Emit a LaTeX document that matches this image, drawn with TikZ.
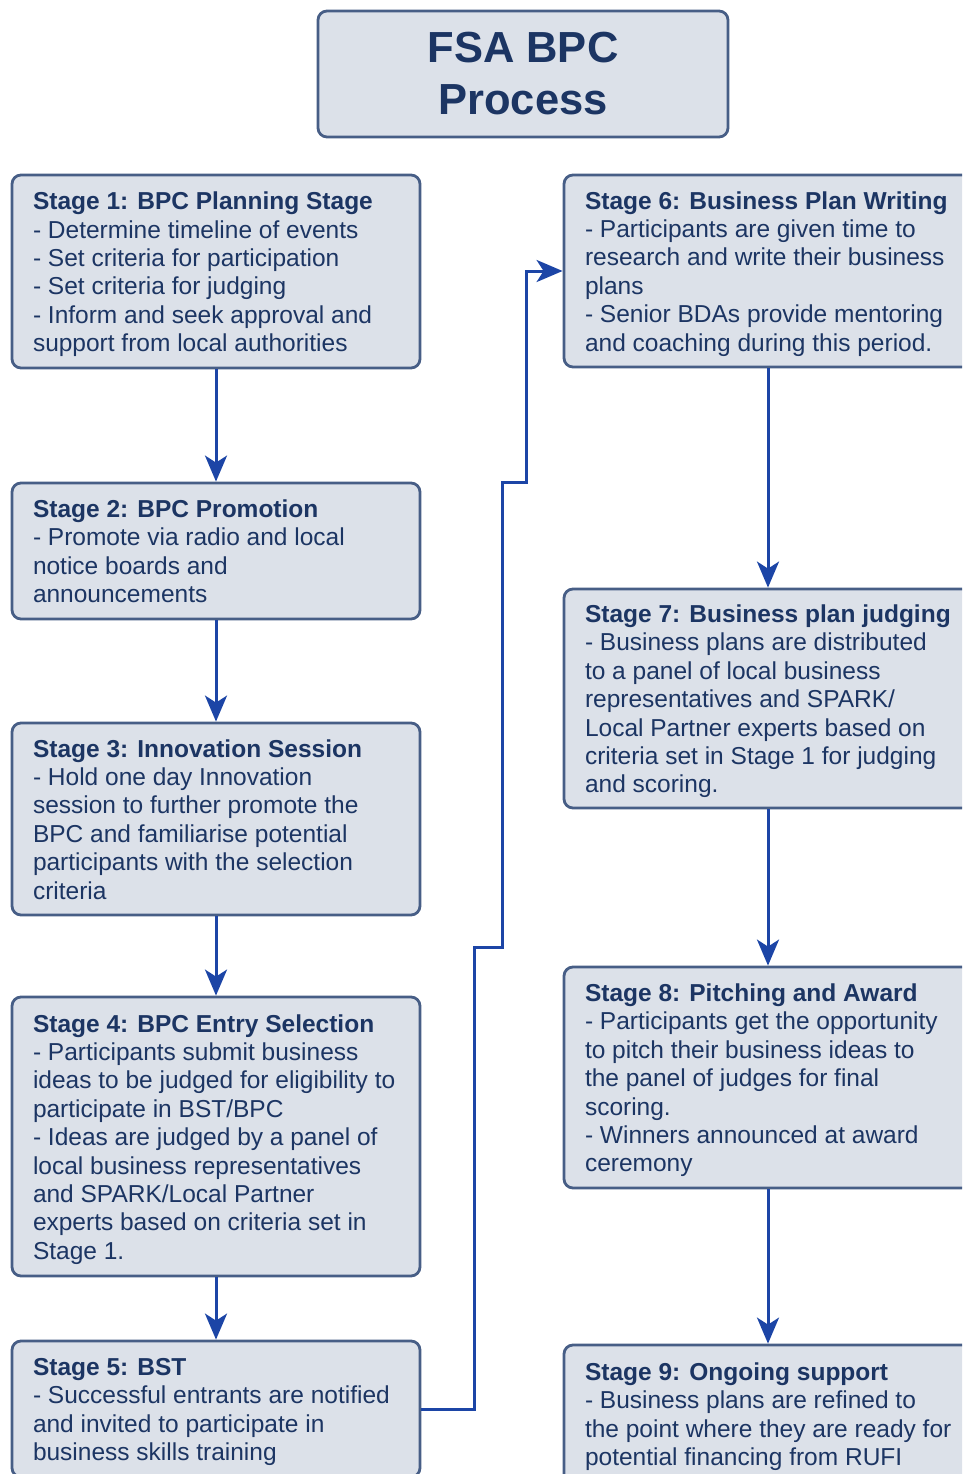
\documentclass[tikz,border=0pt]{standalone}
\usepackage{fontspec}
\setmainfont{Liberation Sans}
\usetikzlibrary{arrows.meta}

\definecolor{boxfill}{HTML}{DCE1E9}
\definecolor{boxline}{HTML}{475E86}
\definecolor{txt}{HTML}{1C3563}
\definecolor{arrowblue}{HTML}{1C45A6}

% left-aligned block of forced lines, set in a fixed-width box,
% dropped slightly below the box centre
\newcommand\stagelines[1]{\raisebox{-3.5pt}[\height][\depth]{\makebox[366pt][l]{\begin{tabular}{@{}l@{}}#1\end{tabular}}}}

\tikzset{
  stagebox/.style={draw=boxline, fill=boxfill, line width=2.8pt, rounded corners=9pt,
    inner sep=0pt, minimum width=408pt, text=txt,
    font=\fontsize{24.5}{28.4}\selectfont},
  titlebox/.style={draw=boxline, fill=boxfill, line width=2.8pt, rounded corners=9pt,
    inner sep=0pt, minimum width=410pt, minimum height=126pt, text=txt, align=center,
    font=\fontsize{43.5}{52}\selectfont\bfseries},
  flow/.style={draw=arrowblue, line width=3pt,
    -{Stealth[length=26pt, width=22pt, inset=7pt]}}
}

\begin{document}
\begin{tikzpicture}[x=1pt, y=-1pt]
\useasboundingbox (0,0) rectangle (962,1474);
\clip (0,0) rectangle (962,1474);

\node[titlebox] (title) at (523,74) {FSA BPC\\Process};

% left column
\node[stagebox, minimum height=193pt] (s1) at (216,271.5) {\stagelines{%
  \textbf{Stage 1: BPC Planning Stage}\\
  - Determine timeline of events\\
  - Set criteria for participation\\
  - Set criteria for judging\\
  - Inform and seek approval and\\
  support from local authorities}};

\node[stagebox, minimum height=136pt] (s2) at (216,551) {\stagelines{%
  \textbf{Stage 2: BPC Promotion}\\
  - Promote via radio and local\\
  notice boards and\\
  announcements}};

\node[stagebox, minimum height=192pt] (s3) at (216,819) {\stagelines{%
  \textbf{Stage 3: Innovation Session}\\
  - Hold one day Innovation\\
  session to further promote the\\
  BPC and familiarise potential\\
  participants with the selection\\
  criteria}};

\node[stagebox, minimum height=279pt] (s4) at (216,1136.5) {\stagelines{%
  \textbf{Stage 4: BPC Entry Selection}\\
  - Participants submit business\\
  ideas to be judged for eligibility to\\
  participate in BST/BPC\\
  - Ideas are judged by a panel of\\
  local business representatives\\
  and SPARK/Local Partner\\
  experts based on criteria set in\\
  Stage 1.}};

\node[stagebox, minimum height=136pt] (s5) at (216,1409) {\stagelines{%
  \textbf{Stage 5: BST}\\
  - Successful entrants are notified\\
  and invited to participate in\\
  business skills training}};

% right column
\node[stagebox, minimum height=192pt] (s6) at (768,271) {\stagelines{%
  \textbf{Stage 6: Business Plan Writing}\\
  - Participants are given time to\\
  research and write their business\\
  plans\\
  - Senior BDAs provide mentoring\\
  and coaching during this period.}};

\node[stagebox, minimum height=219pt] (s7) at (768,698.5) {\stagelines{%
  \textbf{Stage 7: Business plan judging}\\
  - Business plans are distributed\\
  to a panel of local business\\
  representatives and SPARK/\\
  Local Partner experts based on\\
  criteria set in Stage 1 for judging\\
  and scoring.}};

\node[stagebox, minimum height=221pt] (s8) at (768,1077.5) {\stagelines{%
  \textbf{Stage 8: Pitching and Award}\\
  - Participants get the opportunity\\
  to pitch their business ideas to\\
  the panel of judges for final\\
  scoring.\\
  - Winners announced at award\\
  ceremony}};

\node[stagebox, minimum height=138pt] (s9) at (768,1414) {\stagelines{%
  \textbf{Stage 9: Ongoing support}\\
  - Business plans are refined to\\
  the point where they are ready for\\
  potential financing from RUFI}};

% flow between stages
\draw[flow] (s1) -- (s2);
\draw[flow] (s2) -- (s3);
\draw[flow] (s3) -- (s4);
\draw[flow] (s4) -- (s5);
\draw[flow] (s6) -- (s7);
\draw[flow] (s7) -- (s8);
\draw[flow] (s8) -- (s9);

% stepped link from Stage 5 up to Stage 6
\coordinate (j1) at (474,947);
\coordinate (j2) at (502,482);
\coordinate (j3) at (526,271);
\draw[flow] (s5.east) -| (j1) -| (j2) -| (j3) -- (s6.west);
\end{tikzpicture}
\end{document}
